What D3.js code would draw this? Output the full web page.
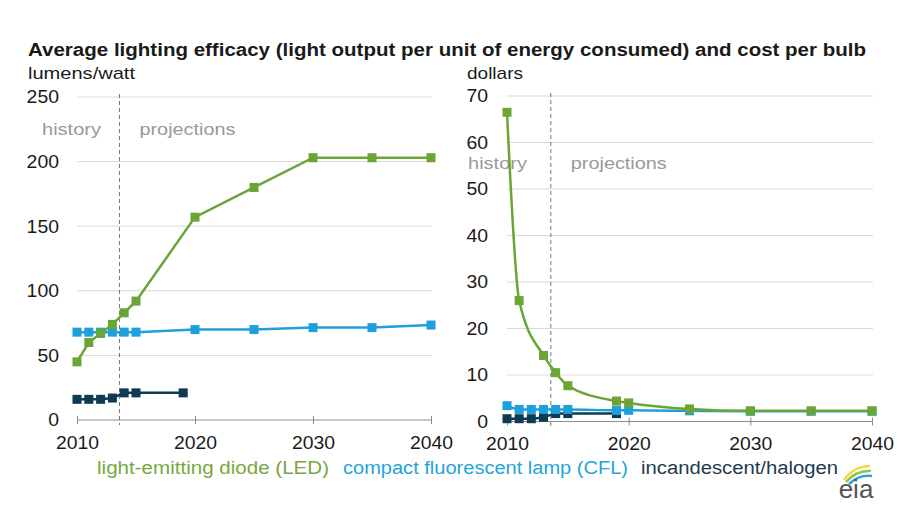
<!DOCTYPE html>
<html><head><meta charset="utf-8">
<script src="https://cdn.jsdelivr.net/npm/d3@7"></script>
<style>
body{margin:0;background:#fff;}
svg text{font-family:"Liberation Sans",Arial,sans-serif;}
</style></head>
<body><svg id="c" width="909" height="510"></svg>
<script>
// ---- data ----
const title = "Average lighting efficacy (light output per unit of energy consumed) and cost per bulb";
const xTicks = [2010, 2020, 2030, 2040];
const historyEnd = 2013.6;

// efficacy (lumens/watt)
const effTicks = [0, 50, 100, 150, 200, 250];
const effLedYears = [2010, 2011, 2012, 2013, 2014, 2015, 2020, 2025, 2030, 2035, 2040];
const effLed      = [45, 60, 67, 74, 83, 92, 157, 180, 203, 203, 203];
const effCflYears = [2010, 2011, 2012, 2013, 2014, 2015, 2020, 2025, 2030, 2035, 2040];
const effCfl      = [68, 68, 68, 68, 68, 68, 70, 70, 71.5, 71.5, 73.5];
const effIncYears = [2010, 2011, 2012, 2013, 2014, 2015, 2019];
const effInc      = [16, 16, 16, 17, 21, 21, 21];

// cost (dollars)
const costTicks = [0, 10, 20, 30, 40, 50, 60, 70];
const costLedYears = [2010, 2011, 2013, 2014, 2015, 2019, 2020, 2025, 2030, 2035, 2040];
const costLed      = [66.5, 26, 14.2, 10.5, 7.7, 4.4, 4.0, 2.7, 2.3, 2.3, 2.3];
const costCflYears = [2010, 2011, 2012, 2013, 2014, 2015, 2019, 2020, 2025, 2030, 2035, 2040];
const costCfl      = [3.4, 2.6, 2.6, 2.6, 2.6, 2.6, 2.4, 2.4, 2.3, 2.2, 2.2, 2.2];
const costIncYears = [2010, 2011, 2012, 2013, 2014, 2015, 2019];
const costInc      = [0.6, 0.6, 0.6, 0.9, 1.7, 1.7, 1.7];

const seriesNames = ["light-emitting diode (LED)", "compact fluorescent lamp (CFL)", "incandescent/halogen"];
const seriesColors = ["#6aa536", "#1ea0dc", "#0d3b53"];
const legendColors = ["#77a83f", "#25a3dd", "#1f3a4d"];

// ---- drawing ----
const svg = d3.select("#c");
svg.append("text").attr("x", 28).attr("y", 56).attr("font-size", 18).attr("font-weight", "bold")
  .attr("textLength", 838).attr("lengthAdjust", "spacingAndGlyphs")
  .attr("fill", "#1a1a1a").text(title);

function panel(opt) {
  const x = d3.scaleLinear().domain([2010, 2040]).range(opt.xr);
  const y = d3.scaleLinear().domain([0, opt.ymax]).range(opt.yr);
  const g = svg.append("g");
  // unit label
  g.append("text").attr("x", opt.unitX).attr("y", 79).attr("font-size", 17).attr("fill", "#1a1a1a")
    .attr("textLength", opt.unitW).attr("lengthAdjust", "spacingAndGlyphs").text(opt.unit);
  // grid
  g.selectAll(".grid").data(opt.ticks.filter(d => d > 0)).join("line")
    .attr("x1", opt.xr[0]).attr("x2", opt.xr[1] + 1)
    .attr("y1", d => y(d)).attr("y2", d => y(d))
    .attr("stroke", "#d9d9d9").attr("stroke-width", 1);
  // y labels
  g.selectAll(".yl").data(opt.ticks).join("text")
    .attr("x", opt.ylabX).attr("y", d => y(d)).attr("dy", "0.36em")
    .attr("text-anchor", "end").attr("font-size", 18).attr("fill", "#1a1a1a")
    .attr("textLength", d => String(d).length * 10.8).attr("lengthAdjust", "spacingAndGlyphs").text(d => d);
  // x axis
  const ax = g.append("g").attr("transform", `translate(0,${y(0)})`)
    .call(d3.axisBottom(x).tickValues(xTicks).tickFormat(d3.format("d")).tickSize(4).tickPadding(12));
  ax.select(".domain").attr("stroke", "#8c8c8c").attr("d", `M${opt.xr[0]},0H${opt.xr[1]}`);
  ax.selectAll(".tick line").attr("stroke", "#8c8c8c").attr("y1", -4).attr("y2", 4);
  ax.selectAll(".tick text").attr("font-size", 18).attr("fill", "#1a1a1a")
    .attr("font-family", "Liberation Sans, Arial, sans-serif").attr("dy", "0.71em")
    .attr("textLength", 43).attr("lengthAdjust", "spacingAndGlyphs");
  // history line
  g.append("line").attr("x1", x(historyEnd)).attr("x2", x(historyEnd))
    .attr("y1", y(opt.ymax) - 3).attr("y2", y(0) + 5)
    .attr("stroke", "#777").attr("stroke-width", 1).attr("stroke-dasharray", "4,3");
  g.append("text").attr("x", opt.histX).attr("y", opt.histY).attr("font-size", 17).attr("fill", "#999")
    .attr("textLength", 59).attr("lengthAdjust", "spacingAndGlyphs").text("history");
  g.append("text").attr("x", x(historyEnd) + 20).attr("y", opt.histY).attr("font-size", 17).attr("fill", "#999")
    .attr("textLength", 96).attr("lengthAdjust", "spacingAndGlyphs").text("projections");
  // series (incandescent, CFL, LED order)
  [2, 1, 0].forEach(i => {
    const yrs = opt.years[i], vals = opt.vals[i];
    const pts = yrs.map((yr, k) => [yr, vals[k]]);
    const line = d3.line().x(d => x(d[0])).y(d => y(d[1])).curve(opt.curve);
    g.append("path").datum(pts).attr("d", line).attr("fill", "none")
      .attr("stroke", seriesColors[i]).attr("stroke-width", 2.5);
    g.selectAll(null).data(pts).join("rect")
      .attr("x", d => x(d[0]) - 4.5).attr("y", d => y(d[1]) - 4.5)
      .attr("width", 9).attr("height", 9).attr("fill", seriesColors[i]);
  });
}

panel({
  xr: [77, 431], yr: [420, 97], ymax: 250, ticks: effTicks, unit: "lumens/watt", unitX: 28, unitW: 107, ylabX: 59,
  histX: 42, histY: 135, curve: d3.curveLinear,
  years: [effLedYears, effCflYears, effIncYears], vals: [effLed, effCfl, effInc]
});
panel({
  xr: [507, 872], yr: [421.5, 96], ymax: 70, ticks: costTicks, unit: "dollars", unitX: 467, unitW: 56, ylabX: 488,
  histX: 468, histY: 169, curve: d3.curveMonotoneX,
  years: [costLedYears, costCflYears, costIncYears], vals: [costLed, costCfl, costInc]
});

// legend
const legX = [97, 343, 641];
const legW = [232, 285, 197];
svg.selectAll(".leg").data(seriesNames).join("text")
  .attr("x", (d, i) => legX[i]).attr("y", 474).attr("font-size", 18)
  .attr("textLength", (d, i) => legW[i]).attr("lengthAdjust", "spacingAndGlyphs")
  .attr("fill", (d, i) => legendColors[i]).text(d => d);

// eia logo
const logo = svg.append("g").attr("transform", "translate(852,486)");
logo.append("path").attr("d", "M-8,-6 Q2,-20 18,-20").attr("fill", "none").attr("stroke", "#f2d64b").attr("stroke-width", 2.5);
logo.append("path").attr("d", "M-6,-4 Q4,-16 19,-15").attr("fill", "none").attr("stroke", "#8cc63f").attr("stroke-width", 2.5);
logo.append("path").attr("d", "M-3,-2 Q7,-12 20,-10").attr("fill", "none").attr("stroke", "#3aa0d8").attr("stroke-width", 2.5);
logo.append("text").attr("x", 4).attr("y", 12).attr("text-anchor", "middle")
  .attr("font-family", "Liberation Serif, serif").attr("font-size", 26).attr("fill", "#555").text("eia");
</script></body></html>
